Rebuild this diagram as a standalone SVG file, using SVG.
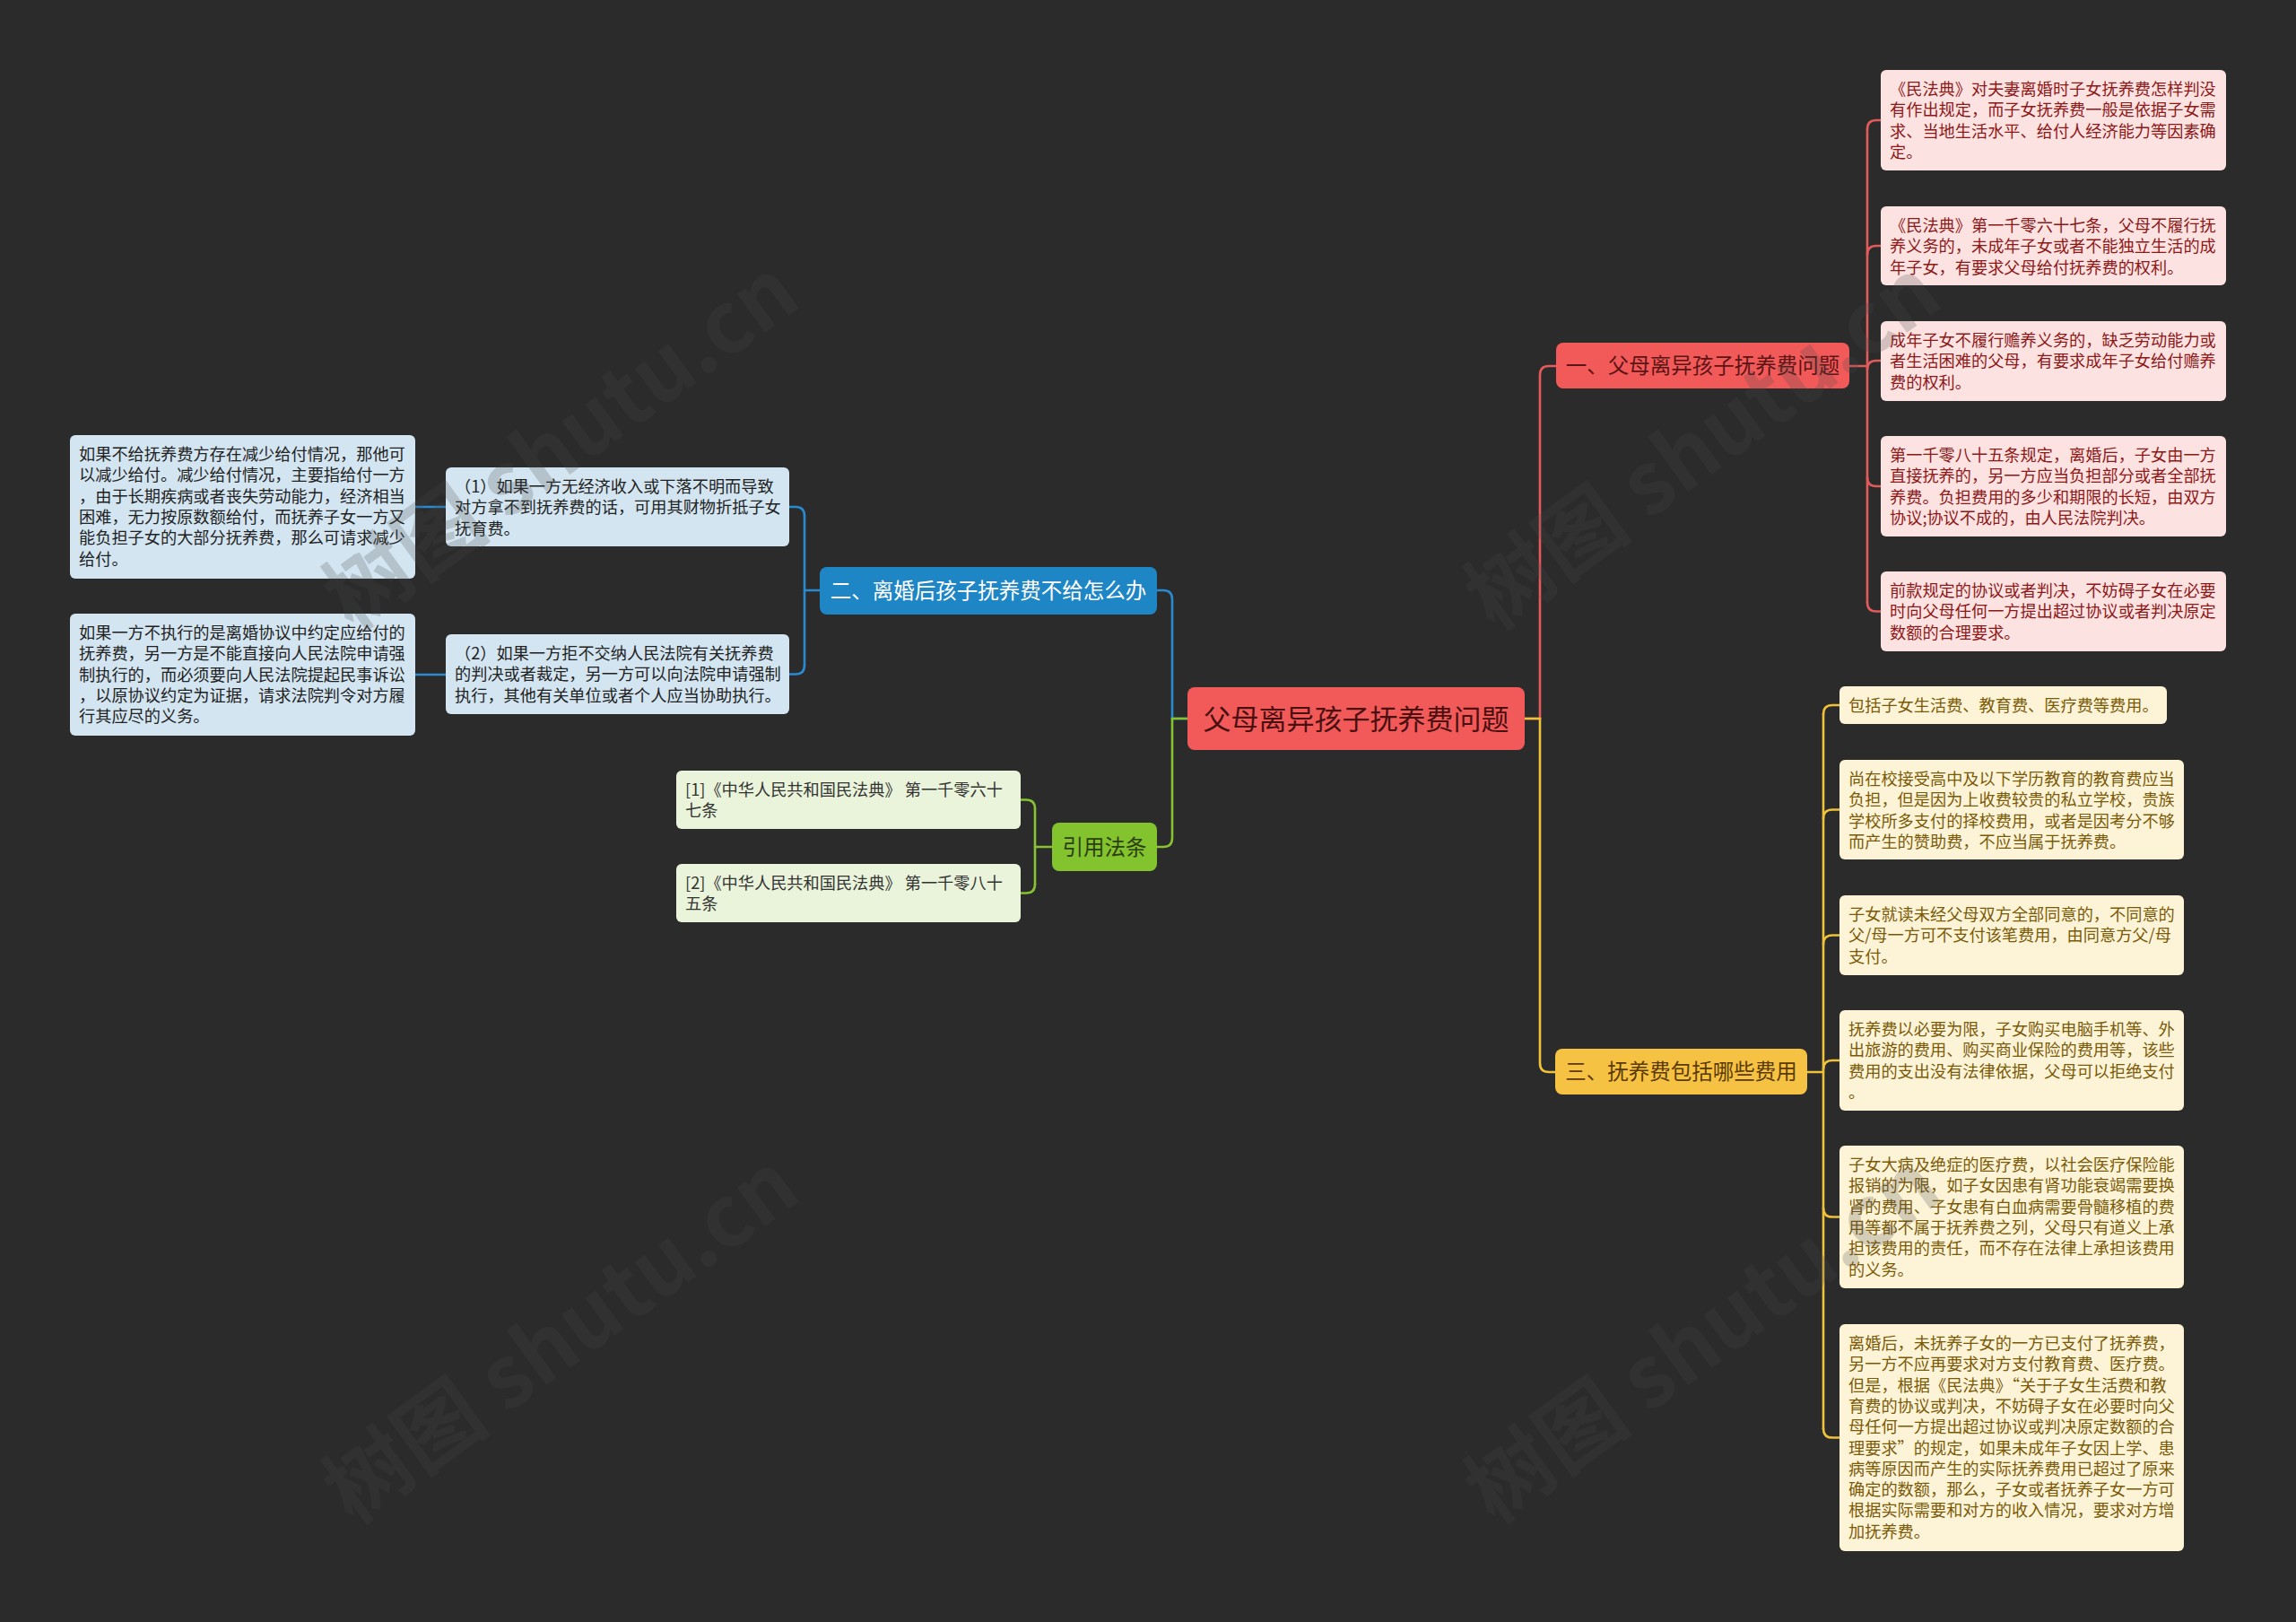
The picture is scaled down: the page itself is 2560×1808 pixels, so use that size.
<svg xmlns="http://www.w3.org/2000/svg" width="2560" height="1808" viewBox="0 0 2560 1808">
<style>
text{font-family:"Noto Sans CJK SC","Noto Sans",sans-serif;}
.lf{font-size:18.2px;}
.tp{font-size:23.5px;text-anchor:middle;}
.rl{fill:#fde2e2;} .rt{fill:#8c1818;}
.yl{fill:#fdf4d7;} .yt{fill:#7a5a08;}
.bl{fill:#d3e5f1;} .bt{fill:#222222;}
.gl{fill:#e9f4da;} .gt{fill:#333333;}
.c{fill:none;stroke-width:2.6;stroke-linecap:round;}
.cr{stroke:#e35a5a;} .cb{stroke:#2a8ad0;} .cy{stroke:#f0c23a;} .cg{stroke:#86c232;}
.wm{font-size:95px;font-weight:bold;fill:#494949;opacity:0.22;}
</style>
<rect x="0" y="0" width="2560" height="1808" fill="#2b2b2b"/>

<g id="connectors">
  <path class="c cr" d="M1700,801 H1717 V418 Q1717,408 1727,408 H1735"/>
  <path class="c cy" d="M1700,801 H1717 V1185 Q1717,1195 1727,1195 H1734"/>
  <path class="c cb" d="M1324,801 H1307 V668 Q1307,658 1297,658 H1290"/>
  <path class="c cg" d="M1324,801 H1307 V934 Q1307,944 1297,944 H1290"/>

  <path class="c cr" d="M2062,408 H2082"/>
  <path class="c cr" d="M2082,144 V671.5"/>
  <path class="c cr" d="M2082,144 Q2082,134 2092,134 H2097"/>
  <path class="c cr" d="M2082,284 Q2082,274 2092,274 H2097"/>
  <path class="c cr" d="M2082,412 Q2082,402 2092,402 H2097"/>
  <path class="c cr" d="M2082,532 Q2082,542 2092,542 H2097"/>
  <path class="c cr" d="M2082,671.5 Q2082,681.5 2092,681.5 H2097"/>

  <path class="c cy" d="M2015,1195 H2033"/>
  <path class="c cy" d="M2033,796 V1592.5"/>
  <path class="c cy" d="M2033,796 Q2033,786 2043,786 H2051"/>
  <path class="c cy" d="M2033,912.5 Q2033,902.5 2043,902.5 H2051"/>
  <path class="c cy" d="M2033,1052.5 Q2033,1042.5 2043,1042.5 H2051"/>
  <path class="c cy" d="M2033,1192 Q2033,1182 2043,1182 H2051"/>
  <path class="c cy" d="M2033,1346.5 Q2033,1356.5 2043,1356.5 H2051"/>
  <path class="c cy" d="M2033,1592.5 Q2033,1602.5 2043,1602.5 H2051"/>

  <path class="c cb" d="M914,658 H897"/>
  <path class="c cb" d="M897,575 V741.5"/>
  <path class="c cb" d="M897,575 Q897,565 887,565 H880"/>
  <path class="c cb" d="M897,741.5 Q897,751.5 887,751.5 H880"/>
  <path class="c cb" d="M463,565 H497"/>
  <path class="c cb" d="M463,752 H497"/>

  <path class="c cg" d="M1173,944 H1154"/>
  <path class="c cg" d="M1154,901.5 V985.5"/>
  <path class="c cg" d="M1154,901.5 Q1154,891.5 1144,891.5 H1138"/>
  <path class="c cg" d="M1154,985.5 Q1154,995.5 1144,995.5 H1138"/>
</g>

<g id="root">
  <rect x="1324" y="766" width="376" height="70" rx="8" fill="#f25a5a"/>
  <text x="1512" y="812.8" font-size="31" text-anchor="middle" fill="#4a1010">父母离异孩子抚养费问题</text>
</g>

<g id="topic1">
  <rect x="1735" y="382" width="327" height="51" rx="8" fill="#f25a5a"/>
  <text class="tp" x="1898.5" y="416.4" fill="#5c1414">一、父母离异孩子抚养费问题</text>
</g>
<g id="topic2">
  <rect x="914" y="632" width="376" height="53" rx="8" fill="#1f86c6"/>
  <text class="tp" x="1102" y="667.4" fill="#ffffff">二、离婚后孩子抚养费不给怎么办</text>
</g>
<g id="topic3">
  <rect x="1734" y="1169" width="281" height="51" rx="8" fill="#f6c244"/>
  <text class="tp" x="1874.5" y="1203.4" fill="#5a3a00">三、抚养费包括哪些费用</text>
</g>
<g id="topic4">
  <rect x="1173" y="917" width="117" height="54" rx="8" fill="#82c32e"/>
  <text class="tp" x="1231.5" y="952.9" fill="#2c3d10">引用法条</text>
</g>

<g id="r1">
  <rect class="rl" x="2097" y="78" width="385" height="112" rx="6"/>
  <text class="lf rt" x="2107" y="106"><tspan x="2107">《民法典》对夫妻离婚时子女抚养费怎样判没</tspan><tspan x="2107" dy="23.3">有作出规定，而子女抚养费一般是依据子女需</tspan><tspan x="2107" dy="23.3">求、当地生活水平、给付人经济能力等因素确</tspan><tspan x="2107" dy="23.3">定。</tspan></text>
</g>
<g id="r2">
  <rect class="rl" x="2097" y="230" width="385" height="88" rx="6"/>
  <text class="lf rt" x="2107" y="258"><tspan x="2107">《民法典》第一千零六十七条，父母不履行抚</tspan><tspan x="2107" dy="23.3">养义务的，未成年子女或者不能独立生活的成</tspan><tspan x="2107" dy="23.3">年子女，有要求父母给付抚养费的权利。</tspan></text>
</g>
<g id="r3">
  <rect class="rl" x="2097" y="358" width="385" height="89" rx="6"/>
  <text class="lf rt" x="2107" y="386"><tspan x="2107">成年子女不履行赡养义务的，缺乏劳动能力或</tspan><tspan x="2107" dy="23.3">者生活困难的父母，有要求成年子女给付赡养</tspan><tspan x="2107" dy="23.3">费的权利。</tspan></text>
</g>
<g id="r4">
  <rect class="rl" x="2097" y="486" width="385" height="112" rx="6"/>
  <text class="lf rt" x="2107" y="514"><tspan x="2107">第一千零八十五条规定，离婚后，子女由一方</tspan><tspan x="2107" dy="23.3">直接抚养的，另一方应当负担部分或者全部抚</tspan><tspan x="2107" dy="23.3">养费。负担费用的多少和期限的长短，由双方</tspan><tspan x="2107" dy="23.3">协议;协议不成的，由人民法院判决。</tspan></text>
</g>
<g id="r5">
  <rect class="rl" x="2097" y="637" width="385" height="89" rx="6"/>
  <text class="lf rt" x="2107" y="665"><tspan x="2107">前款规定的协议或者判决，不妨碍子女在必要</tspan><tspan x="2107" dy="23.3">时向父母任何一方提出超过协议或者判决原定</tspan><tspan x="2107" dy="23.3">数额的合理要求。</tspan></text>
</g>

<g id="y1">
  <rect class="yl" x="2051" y="765" width="365" height="42" rx="6"/>
  <text class="lf yt" x="2061" y="793"><tspan x="2061">包括子女生活费、教育费、医疗费等费用。</tspan></text>
</g>
<g id="y2">
  <rect class="yl" x="2051" y="847" width="384" height="111" rx="6"/>
  <text class="lf yt" x="2061" y="875"><tspan x="2061">尚在校接受高中及以下学历教育的教育费应当</tspan><tspan x="2061" dy="23.3">负担，但是因为上收费较贵的私立学校，贵族</tspan><tspan x="2061" dy="23.3">学校所多支付的择校费用，或者是因考分不够</tspan><tspan x="2061" dy="23.3">而产生的赞助费，不应当属于抚养费。</tspan></text>
</g>
<g id="y3">
  <rect class="yl" x="2051" y="998" width="384" height="89" rx="6"/>
  <text class="lf yt" x="2061" y="1026"><tspan x="2061">子女就读未经父母双方全部同意的，不同意的</tspan><tspan x="2061" dy="23.3">父/母一方可不支付该笔费用，由同意方父/母</tspan><tspan x="2061" dy="23.3">支付。</tspan></text>
</g>
<g id="y4">
  <rect class="yl" x="2051" y="1126" width="384" height="112" rx="6"/>
  <text class="lf yt" x="2061" y="1154"><tspan x="2061">抚养费以必要为限，子女购买电脑手机等、外</tspan><tspan x="2061" dy="23.3">出旅游的费用、购买商业保险的费用等，该些</tspan><tspan x="2061" dy="23.3">费用的支出没有法律依据，父母可以拒绝支付</tspan><tspan x="2061" dy="23.3">。</tspan></text>
</g>
<g id="y5">
  <rect class="yl" x="2051" y="1277" width="384" height="159" rx="6"/>
  <text class="lf yt" x="2061" y="1305"><tspan x="2061">子女大病及绝症的医疗费，以社会医疗保险能</tspan><tspan x="2061" dy="23.3">报销的为限，如子女因患有肾功能衰竭需要换</tspan><tspan x="2061" dy="23.3">肾的费用、子女患有白血病需要骨髓移植的费</tspan><tspan x="2061" dy="23.3">用等都不属于抚养费之列，父母只有道义上承</tspan><tspan x="2061" dy="23.3">担该费用的责任，而不存在法律上承担该费用</tspan><tspan x="2061" dy="23.3">的义务。</tspan></text>
</g>
<g id="y6">
  <rect class="yl" x="2051" y="1476" width="384" height="253" rx="6"/>
  <text class="lf yt" x="2061" y="1504"><tspan x="2061">离婚后，未抚养子女的一方已支付了抚养费，</tspan><tspan x="2061" dy="23.3">另一方不应再要求对方支付教育费、医疗费。</tspan><tspan x="2061" dy="23.3">但是，根据《民法典》“关于子女生活费和教</tspan><tspan x="2061" dy="23.3">育费的协议或判决，不妨碍子女在必要时向父</tspan><tspan x="2061" dy="23.3">母任何一方提出超过协议或判决原定数额的合</tspan><tspan x="2061" dy="23.3">理要求”的规定，如果未成年子女因上学、患</tspan><tspan x="2061" dy="23.3">病等原因而产生的实际抚养费用已超过了原来</tspan><tspan x="2061" dy="23.3">确定的数额，那么，子女或者抚养子女一方可</tspan><tspan x="2061" dy="23.3">根据实际需要和对方的收入情况，要求对方增</tspan><tspan x="2061" dy="23.3">加抚养费。</tspan></text>
</g>

<g id="b1">
  <rect class="bl" x="497" y="521" width="383" height="88" rx="6"/>
  <text class="lf bt" x="507" y="549"><tspan x="507">（1）如果一方无经济收入或下落不明而导致</tspan><tspan x="507" dy="23.3">对方拿不到抚养费的话，可用其财物折抵子女</tspan><tspan x="507" dy="23.3">抚育费。</tspan></text>
</g>
<g id="b2">
  <rect class="bl" x="497" y="707" width="383" height="89" rx="6"/>
  <text class="lf bt" x="507" y="735"><tspan x="507">（2）如果一方拒不交纳人民法院有关抚养费</tspan><tspan x="507" dy="23.3">的判决或者裁定，另一方可以向法院申请强制</tspan><tspan x="507" dy="23.3">执行，其他有关单位或者个人应当协助执行。</tspan></text>
</g>
<g id="l1">
  <rect class="bl" x="78" y="485" width="385" height="160" rx="6"/>
  <text class="lf bt" x="88" y="513"><tspan x="88">如果不给抚养费方存在减少给付情况，那他可</tspan><tspan x="88" dy="23.3">以减少给付。减少给付情况，主要指给付一方</tspan><tspan x="88" dy="23.3">，由于长期疾病或者丧失劳动能力，经济相当</tspan><tspan x="88" dy="23.3">困难，无力按原数额给付，而抚养子女一方又</tspan><tspan x="88" dy="23.3">能负担子女的大部分抚养费，那么可请求减少</tspan><tspan x="88" dy="23.3">给付。</tspan></text>
</g>
<g id="l2">
  <rect class="bl" x="78" y="684" width="385" height="136" rx="6"/>
  <text class="lf bt" x="88" y="712"><tspan x="88">如果一方不执行的是离婚协议中约定应给付的</tspan><tspan x="88" dy="23.3">抚养费，另一方是不能直接向人民法院申请强</tspan><tspan x="88" dy="23.3">制执行的，而必须要向人民法院提起民事诉讼</tspan><tspan x="88" dy="23.3">，以原协议约定为证据，请求法院判令对方履</tspan><tspan x="88" dy="23.3">行其应尽的义务。</tspan></text>
</g>

<g id="g1">
  <rect class="gl" x="754" y="859" width="384" height="65" rx="6"/>
  <text class="lf gt" x="764" y="887"><tspan x="764">[1]《中华人民共和国民法典》 第一千零六十</tspan><tspan x="764" dy="23.3">七条</tspan></text>
</g>
<g id="g2">
  <rect class="gl" x="754" y="963" width="384" height="65" rx="6"/>
  <text class="lf gt" x="764" y="991"><tspan x="764">[2]《中华人民共和国民法典》 第一千零八十</tspan><tspan x="764" dy="23.3">五条</tspan></text>
</g>

<g id="watermarks">
  <text class="wm" transform="translate(645,522) rotate(-36)" text-anchor="middle">树图 shutu.cn</text>
  <text class="wm" transform="translate(1918,522) rotate(-36)" text-anchor="middle">树图 shutu.cn</text>
  <text class="wm" transform="translate(645,1518) rotate(-36)" text-anchor="middle">树图 shutu.cn</text>
  <text class="wm" transform="translate(1918,1518) rotate(-36)" text-anchor="middle">树图 shutu.cn</text>
</g>
</svg>
